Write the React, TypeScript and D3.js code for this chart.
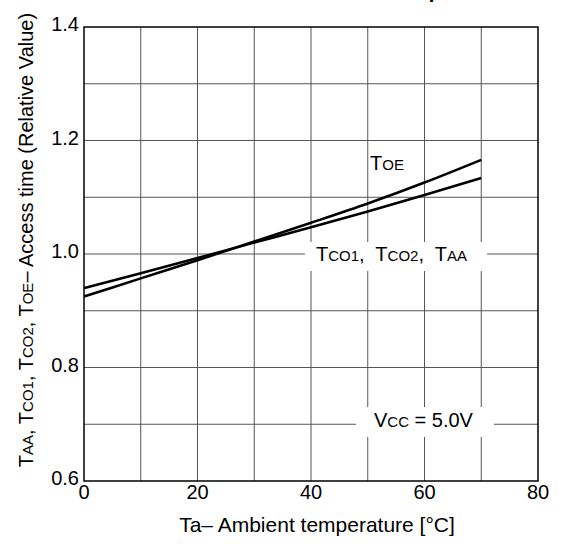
import { useEffect, useRef } from "react";
import * as d3 from "d3";

// temperature points (°C)
const temps = [0, 10, 20, 30, 40, 50, 60, 70];
// relative access time
const toeValues = [0.925, 0.957, 0.989, 1.022, 1.055, 1.089, 1.126, 1.166];
const tcoValues = [0.94, 0.966, 0.993, 1.02, 1.047, 1.075, 1.104, 1.134];

const xTicks = [0, 20, 40, 60, 80];
const yTicks = [0.6, 0.8, 1.0, 1.2, 1.4];

const font = "Liberation Sans, Arial, sans-serif";

export default function App() {
  const svgRef = useRef<SVGSVGElement>(null);

  useEffect(() => {
    if (!svgRef.current) return;
    const svg = d3.select(svgRef.current);
    svg.selectAll("*").remove();

    const left = 84, right = 538, top = 27, bottom = 481;
    const x = d3.scaleLinear().domain([0, 80]).range([left, right]);
    const y = d3.scaleLinear().domain([0.6, 1.4]).range([bottom, top]);

    // clipped title remnant at the very top
    svg.append("text")
      .attr("x", 441).attr("y", -2)
      .attr("text-anchor", "end")
      .attr("font-family", font).attr("font-weight", "bold").attr("font-size", 20)
      .text("Access Time vs. Temp");

    // grid
    const grid = svg.append("g").attr("stroke", "#555").attr("stroke-width", 1);
    d3.range(10, 80, 10).forEach((v) => {
      grid.append("line").attr("x1", x(v)).attr("x2", x(v)).attr("y1", top).attr("y2", bottom);
    });
    d3.range(0.7, 1.4, 0.1).forEach((v) => {
      grid.append("line").attr("x1", left).attr("x2", right).attr("y1", y(v)).attr("y2", y(v));
    });

    // curves
    const line = d3.line<number>().x((_, i) => x(temps[i])).y((d) => y(d)).curve(d3.curveMonotoneX);
    [toeValues, tcoValues].forEach((vals) => {
      svg.append("path").attr("d", line(vals)).attr("fill", "none")
        .attr("stroke", "#000").attr("stroke-width", 2.5);
    });

    // label boxes
    svg.append("rect").attr("x", 305).attr("y", 242).attr("width", 182).attr("height", 29).attr("fill", "#fff");
    svg.append("rect").attr("x", 356).attr("y", 407).attr("width", 138).attr("height", 30).attr("fill", "#fff");

    const subText = (g: any, parts: [string, boolean][], size: number) => {
      parts.forEach(([t, small]) => {
        g.append("tspan").attr("font-size", small ? size * 0.75 : size).text(t);
      });
    };

    const toe = svg.append("text").attr("x", 370).attr("y", 170)
      .attr("font-family", font).attr("fill", "#000");
    subText(toe, [["T", false], ["OE", true]], 20);

    const tco = svg.append("text").attr("x", 316).attr("y", 261)
      .attr("font-family", font).attr("fill", "#000").style("white-space", "pre");
    subText(tco, [["T", false], ["CO1", true], [",  T", false], ["CO2", true], [",  T", false], ["AA", true]], 20);

    const vcc = svg.append("text").attr("x", 374).attr("y", 427)
      .attr("font-family", font).attr("fill", "#000").style("white-space", "pre");
    subText(vcc, [["V", false], ["CC", true], [" = 5.0V", false]], 20);

    // frame
    svg.append("rect").attr("x", left).attr("y", top).attr("width", right - left).attr("height", bottom - top)
      .attr("fill", "none").attr("stroke", "#000").attr("stroke-width", 1.5);

    // tick labels
    svg.append("g").selectAll("text").data(yTicks).enter().append("text")
      .attr("x", 79).attr("y", (d) => y(d) + 4)
      .attr("text-anchor", "end").attr("font-family", font).attr("font-size", 20)
      .text((d) => d.toFixed(1));
    svg.append("g").selectAll("text").data(xTicks).enter().append("text")
      .attr("x", (d) => x(d)).attr("y", 499)
      .attr("text-anchor", "middle").attr("font-family", font).attr("font-size", 20)
      .text((d) => String(d));

    // axis titles
    svg.append("text").attr("x", 317).attr("y", 532)
      .attr("text-anchor", "middle").attr("font-family", font).attr("font-size", 21)
      .text("Ta– Ambient temperature [°C]");

    const yt = svg.append("text").attr("transform", "translate(33,240) rotate(-90)")
      .attr("text-anchor", "middle").attr("font-family", font).attr("fill", "#000");
    subText(yt, [["T", false], ["AA", true], [", T", false], ["CO1", true], [", T", false], ["CO2", true],
      [", T", false], ["OE", true], ["– Access time (Relative Value)", false]], 20);
  }, []);

  return (
    <svg ref={svgRef} width={563} height={544}
      style={{ position: "absolute", left: 0, top: 0, background: "#fff" }} />
  );
}
